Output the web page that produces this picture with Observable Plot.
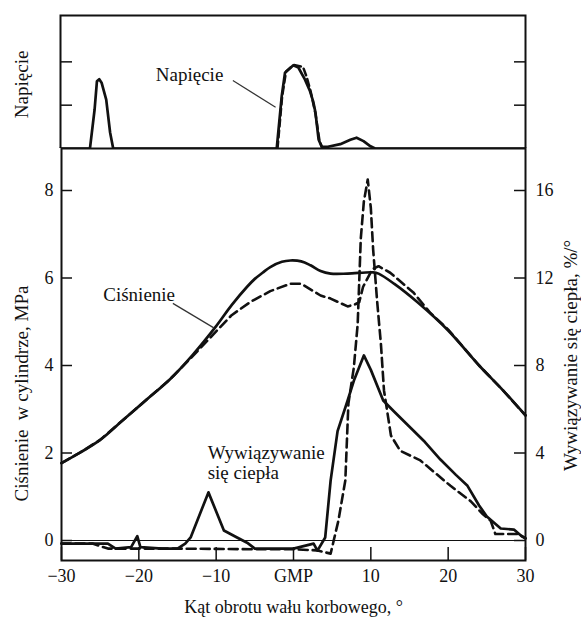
<!DOCTYPE html>
<html><head><meta charset="utf-8">
<script src="https://cdn.jsdelivr.net/npm/d3@7"></script>
<script src="https://cdn.jsdelivr.net/npm/@observablehq/plot@0.6"></script>
<style>
html,body{margin:0;padding:0;background:#fff;}
#chart{width:581px;height:617px;overflow:hidden;position:relative;background:#fff;}
#chart svg{display:block;}
#chart svg, #chart svg text{font-family:"Liberation Serif","Times New Roman",serif !important;}
</style></head><body><div id="chart"></div>
<script>
const FONT = "Liberation Serif, Times New Roman, serif";
const INK = "#111";

// ---- data ----
const angleTicks = [-30, -20, -10, 0, 10, 20, 30];
const angleTickLabels = ["−30", "−20", "−10", "GMP", "10", "20", "30"];
const pressureTicks = [0, 2, 4, 6, 8];
const heatTicks = [0, 4, 8, 12, 16];
const voltageTicks = [1, 2];

// [crank angle °, voltage (arb.)]
const voltageSolid = [[-30,0],[-26.2,0],[-25.6,0.9],[-25.3,1.55],[-25.0,1.6],[-24.7,1.52],[-24.1,1.13],[-23.6,0.37],[-23.2,0],
  [-2.1,0],[-1.46,1.2],[-1.03,1.75],[-0.6,1.82],[0.04,1.92],[0.69,1.87],[1.55,1.59],[2.2,1.32],[2.6,1.09],[2.9,0.83],[3.3,0.21],[3.7,0.04],
  [4.5,0.04],[6.1,0.1],[7.4,0.2],[8.2,0.25],[9.1,0.17],[10,0.05],[10.6,0],[30,0]];
const voltageDashed = [[-2.0,0],[-1.4,1.2],[-0.9,1.78],[0.1,1.93],[1.3,1.88],[1.8,1.63],[2.3,1.3],[2.9,0.8],[3.4,0.2],[3.8,0]];

// [crank angle °, cylinder pressure MPa]
const pressureSolid = [[-30,1.77],[-27.5,2.02],[-25,2.3],[-22,2.76],[-19,3.22],[-16,3.68],[-13,4.25],[-10,4.9],[-8,5.38],[-6,5.8],
  [-5,5.98],[-4,6.12],[-3,6.25],[-1.5,6.37],[-0.4,6.4],[1,6.38],[2.2,6.29],[3.5,6.16],[4.8,6.1],[7,6.1],[10.3,6.13],[11,6.1],[13,5.87],
  [16,5.45],[20,4.8],[24,4.0],[27,3.45],[30,2.86]];
const pressureDashed = [[-30,1.77],[-27.5,2.02],[-25,2.3],[-22,2.76],[-19,3.22],[-16,3.68],[-13,4.22],[-10,4.78],[-8,5.15],[-5.6,5.45],
  [-3,5.7],[-0.4,5.87],[1,5.87],[3.5,5.6],[4.8,5.53],[7,5.35],[8,5.4],[8.5,5.45],[9,5.8],[10.2,6.2],[11,6.27],[12.5,6.12],
  [15.5,5.67],[17.7,5.2],[20,4.82],[24,4.0],[27,3.45],[30,2.86]];

// [crank angle °, heat release %/°]
const heatSolid = [[-30,-0.14],[-24,-0.14],[-23,-0.37],[-21,-0.3],[-20.2,0.2],[-19.8,-0.3],[-17,-0.37],[-15,-0.37],[-14,-0.14],
  [-13.3,0.14],[-11,2.2],[-9,0.46],[-7.3,0.14],[-6,-0.1],[-5,-0.37],[0,-0.37],[2.6,-0.14],[3.1,-0.46],[4.1,0.14],[4.8,2.74],
  [5.7,5.0],[7,6.4],[7.8,7.3],[9.1,8.46],[10,7.8],[11.6,6.4],[13,5.9],[15,5.2],[17,4.5],[19,3.7],[21,3.0],[22.5,2.5],[24,1.6],
  [25,1.1],[26.8,0.55],[28.5,0.5],[29.4,0.23],[30,0.1]];
const heatDashed = [[-30,-0.14],[-26,-0.14],[-24,-0.37],[-15,-0.37],[-5,-0.4],[0,-0.4],[3,-0.45],[4.8,-0.6],[5.2,0],[5.8,0.9],
  [6.7,2.74],[7.1,6.26],[7.8,7.9],[8.3,9.9],[8.7,13.8],[9.1,15.5],[9.6,16.5],[10,15.2],[10.3,13.3],[10.8,11],[11.3,9],[11.7,6.86],
  [12.6,4.8],[13.8,4.1],[16.4,3.66],[20.3,2.5],[22.9,1.8],[24.5,1.2],[25.5,0.9],[26.1,0.3],[29,0.3],[30,0.1]];

const heatPerMPa = 2; // right axis (%/°) = 2 × left axis (MPa)

// ---- top panel: voltage ----
const topPlot = Plot.plot({
  width: 581, height: 148, marginTop: 15, marginBottom: 0, marginLeft: 60, marginRight: 56,
  x: {domain: [-30, 30], axis: null},
  y: {domain: [0, 3.07], axis: null},
  style: {fontFamily: FONT, fontSize: "19px", color: INK, background: "white"},
  marks: [
    Plot.frame({stroke: INK, strokeWidth: 2}),
    Plot.axisY(voltageTicks, {anchor: "left", tickSize: -12, tickFormat: () => "", strokeWidth: 1.5}),
    Plot.axisY(voltageTicks, {anchor: "right", tickSize: -12, tickFormat: () => "", strokeWidth: 1.5}),
    Plot.line(voltageDashed, {x: d => d[0], y: d => d[1], stroke: INK, strokeWidth: 2.5, strokeDasharray: "7,4"}),
    Plot.line(voltageSolid, {x: d => d[0], y: d => d[1], stroke: INK, strokeWidth: 2.7}),
    Plot.text(["Napięcie"], {frameAnchor: "left", y: () => 1.48, rotate: -90, dx: -38.5, textAnchor: "middle", lineAnchor: "middle", fontFamily: FONT, fontSize: 19, fill: INK}),
    Plot.text(["Napięcie"], {x: () => -17.7, y: () => 1.69, textAnchor: "start", fontFamily: FONT, fontSize: 19, fill: INK}),
    Plot.link([0], {x1: () => -7.76, y1: () => 1.57, x2: () => -2.25, y2: () => 0.95, stroke: "#333", strokeWidth: 1.2})
  ]
});

// ---- main panel: pressure + heat release ----
const mainPlot = Plot.plot({
  width: 581, height: 469, marginTop: 0, marginBottom: 57, marginLeft: 61, marginRight: 56,
  x: {domain: [-30, 30], axis: null},
  y: {domain: [-0.457, 8.96], axis: null},
  style: {fontFamily: FONT, fontSize: "18px", color: INK, background: "white"},
  marks: [
    Plot.frame({stroke: INK, strokeWidth: 2}),
    Plot.ruleY([0], {stroke: INK, strokeWidth: 1}),
    Plot.axisX(angleTicks, {anchor: "bottom", tickSize: -13, tickPadding: 22, strokeWidth: 1.5,
      tickFormat: d => angleTickLabels[angleTicks.indexOf(d)], fontSize: 18}),
    Plot.axisY(pressureTicks, {anchor: "left", tickSize: -11, tickPadding: 19, strokeWidth: 1.5, fontSize: 18}),
    Plot.axisY(pressureTicks, {anchor: "right", tickSize: -12, tickPadding: 22, strokeWidth: 1.5, fontSize: 18,
      tickFormat: d => String(heatTicks[pressureTicks.indexOf(d)])}),
    Plot.line(pressureDashed, {x: d => d[0], y: d => d[1], stroke: INK, strokeWidth: 2.6, strokeDasharray: "9,5"}),
    Plot.line(pressureSolid, {x: d => d[0], y: d => d[1], stroke: INK, strokeWidth: 2.7, curve: "catmull-rom"}),
    Plot.line(heatDashed, {x: d => d[0], y: d => d[1] / heatPerMPa, stroke: INK, strokeWidth: 2.6, strokeDasharray: "9,5"}),
    Plot.line(heatSolid, {x: d => d[0], y: d => d[1] / heatPerMPa, stroke: INK, strokeWidth: 2.7}),
    Plot.text(["Ciśnienie  w cylindrze, MPa"], {frameAnchor: "left", y: () => 3.36, rotate: -90, dx: -40, textAnchor: "middle", lineAnchor: "middle", fontFamily: FONT, fontSize: 19, fill: INK}),
    Plot.text(["Wywiązywanie się ciepła, %/°"], {frameAnchor: "right", y: () => 4.23, rotate: -90, dx: 45, textAnchor: "middle", lineAnchor: "middle", fontFamily: FONT, fontSize: 19, fill: INK}),
    Plot.text(["Kąt obrotu wału korbowego, °"], {x: () => 0, frameAnchor: "bottom", dy: 47, textAnchor: "middle", lineAnchor: "middle", fontFamily: FONT, fontSize: 18, fill: INK}),
    Plot.text(["Ciśnienie"], {x: () => -24.6, y: () => 5.62, textAnchor: "start", fontFamily: FONT, fontSize: 19, fill: INK}),
    Plot.link([0], {x1: () => -15.6, y1: () => 5.42, x2: () => -10.3, y2: () => 4.86, stroke: "#333", strokeWidth: 1.2}),
    Plot.text(["Wywiązywanie\nsię ciepła"], {x: () => -11.1, y: () => 1.79, textAnchor: "start", lineHeight: 1.05, fontFamily: FONT, fontSize: 19, fill: INK})
  ]
});

const root = document.getElementById("chart");
root.appendChild(topPlot);
root.appendChild(mainPlot);
</script>
</body></html>
